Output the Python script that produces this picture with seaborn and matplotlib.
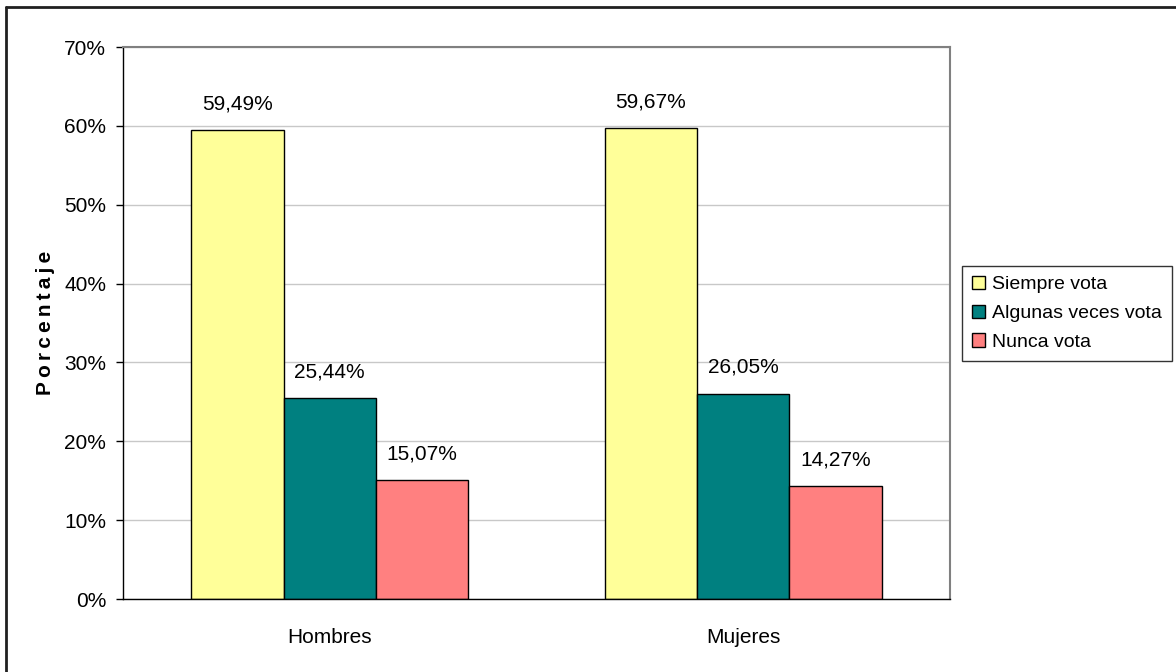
import matplotlib
matplotlib.use("Agg")
import matplotlib.pyplot as plt
import matplotlib.ticker as mticker
from matplotlib.lines import Line2D
from matplotlib.patches import Patch
import seaborn as sns
import pandas as pd

# datos del grafico (porcentajes)
grupos = ["Hombres", "Mujeres"]
series = ["Siempre vota", "Algunas veces vota", "Nunca vota"]
siempre = [59.49, 59.67]
algunas = [25.44, 26.05]
nunca = [15.07, 14.27]
colores = ["#FFFF99", "#008080", "#FF8080"]
yticks = [0, 10, 20, 30, 40, 50, 60, 70]

df = pd.DataFrame({
    "grupo": grupos * 3,
    "serie": [series[0]] * 2 + [series[1]] * 2 + [series[2]] * 2,
    "valor": siempre + algunas + nunca,
})

sns.set_style("white")
plt.rcParams["font.family"] = ["Liberation Sans", "DejaVu Sans"]
for k in ["text.color", "axes.labelcolor", "xtick.color", "ytick.color"]:
    plt.rcParams[k] = "black"
fs = 15

fig = plt.figure(figsize=(11.76, 6.72), dpi=100)
ax = fig.add_axes([0.1046, 0.1086, 0.7032, 0.8214])

sns.barplot(data=df, x="grupo", y="valor", hue="serie", order=grupos,
            hue_order=series, palette=colores, width=0.67, saturation=1,
            edgecolor="black", linewidth=1, legend=False, ax=ax)

for cont in ax.containers:
    etiquetas = [f"{b.get_height():.2f}%".replace(".", ",") for b in cont]
    ax.bar_label(cont, labels=etiquetas, padding=12, fontsize=fs)

ax.set_xlim(-0.5, 1.5)
ax.set_ylim(0, 70)
ax.set_yticks(yticks)
ax.yaxis.set_major_formatter(mticker.FuncFormatter(lambda v, p: f"{v:.0f}%"))
ax.yaxis.grid(True, color="#C8C8C8", lw=1)
ax.set_axisbelow(True)

ax.set_xticks([0, 1])
ax.set_xticklabels(grupos)
ax.set_xticks([-0.5, 0.5, 1.5], minor=True)
ax.tick_params(axis="x", which="major", length=0, pad=21, labelsize=fs)
ax.tick_params(axis="x", which="minor", length=5, width=1, direction="out", color="black")
ax.tick_params(axis="y", length=5, width=1, direction="out", left=True, pad=7,
               labelsize=fs, color="black")
ax.set_xlabel("")
ax.set_ylabel("\u2009".join("Porcentaje"), fontsize=fs, fontweight="bold", labelpad=7)

for lado in ["left", "bottom"]:
    ax.spines[lado].set_color("black")
    ax.spines[lado].set_linewidth(1)
for lado in ["top", "right"]:
    ax.spines[lado].set_color("#808080")
    ax.spines[lado].set_linewidth(1.5)

handles = [Patch(facecolor=c, edgecolor="black", lw=1) for c in colores]
leg = ax.legend(handles, series, loc="upper left", bbox_to_anchor=(0.818, 0.604),
                bbox_transform=fig.transFigure, frameon=True, fancybox=False,
                edgecolor="black", fontsize=14, handlelength=0.7, handleheight=0.7,
                handletextpad=0.35, labelspacing=0.57, borderpad=0.5, borderaxespad=0)
leg.get_frame().set_linewidth(1)

# marco exterior (solo se ven los bordes izquierdo y superior)
fig.add_artist(Line2D([0.0055, 0.0055], [0, 0.9903], transform=fig.transFigure,
                      color="#202020", lw=2))
fig.add_artist(Line2D([0.0055, 1], [0.9903, 0.9903], transform=fig.transFigure,
                      color="#202020", lw=2))

fig.savefig("out.png", dpi=100)
